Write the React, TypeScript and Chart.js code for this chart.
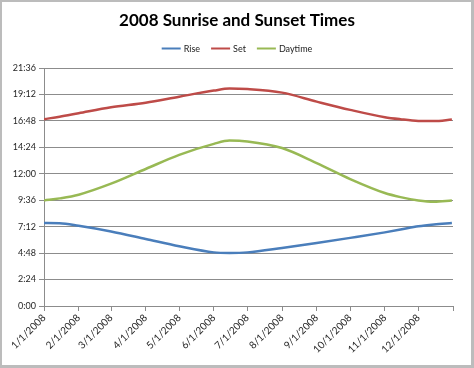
import React, { useEffect, useRef } from 'react';
import { Chart, registerables } from 'chart.js';

Chart.register(...registerables);

const chartTitle = '2008 Sunrise and Sunset Times';
const monthLabels = ['1/1/2008', '2/1/2008', '3/1/2008', '4/1/2008', '5/1/2008', '6/1/2008', '7/1/2008', '8/1/2008', '9/1/2008', '10/1/2008', '11/1/2008', '12/1/2008'];
const monthStartDays = [0, 31, 60, 91, 121, 152, 182, 213, 244, 274, 305, 335];
const yearEndDay = 366;
const sampleDays = [0, 14, 31, 60, 91, 121, 152, 166, 182, 213, 244, 274, 305, 319, 335, 349, 365];
const riseTimes = ['7:32', '7:31', '7:17', '6:46', '6:05', '5:25', '4:52', '4:49', '4:52', '5:16', '5:43', '6:11', '6:41', '6:56', '7:14', '7:24', '7:32'];
const setTimes = ['16:57', '17:11', '17:30', '18:02', '18:27', '19:00', '19:33', '19:44', '19:41', '19:22', '18:33', '17:48', '17:08', '16:57', '16:48', '16:47', '16:55'];
const daytimeTimes = ['9:35', '9:46', '10:06', '11:06', '12:26', '13:43', '14:43', '15:01', '14:56', '14:20', '12:58', '11:31', '10:15', '9:53', '9:35', '9:28', '9:35'];
const seriesNames = ['Rise', 'Set', 'Daytime'];
const seriesColors = ['#4a7ebb', '#be4b48', '#98b954'];
const yMaxMinutes = 1296;
const yStepMinutes = 144;

const toMinutes = (s: string) => {
  const [h, m] = s.split(':').map(Number);
  return h * 60 + m;
};
const fmt = (v: number) => {
  const h = Math.floor(v / 60);
  const m = Math.round(v - h * 60);
  return `${h}:${m < 10 ? '0' : ''}${m}`;
};

const FONT = 'Lato, "DejaVu Sans", sans-serif';

const framePlugin = {
  id: 'frameAndHeader',
  beforeDraw(chart: any) {
    const { ctx, width, height } = chart;
    ctx.save();
    ctx.fillStyle = '#bcbcbc';
    ctx.fillRect(0, 0, width, height);
    ctx.fillStyle = '#ffffff';
    ctx.fillRect(2, 2, width - 5, height - 5);
    ctx.restore();
  },
  afterDraw(chart: any) {
    const { ctx } = chart;
    ctx.save();
    ctx.fillStyle = '#000000';
    ctx.font = `bold 17px ${FONT}`;
    ctx.textAlign = 'center';
    ctx.textBaseline = 'middle';
    ctx.fillText(chartTitle, 237, 21);

    // legend
    ctx.font = `9px ${FONT}`;
    ctx.textAlign = 'left';
    const lineLen = 19;
    const gapLineText = 3;
    const gapItems = 11;
    const widths = chart.data.datasets.map((d: any) => lineLen + gapLineText + ctx.measureText(d.label).width);
    const total = widths.reduce((a: number, b: number) => a + b, 0) + gapItems * (widths.length - 1);
    let x = 237 - total / 2;
    const y = 48.5;
    chart.data.datasets.forEach((d: any, i: number) => {
      ctx.strokeStyle = d.borderColor;
      ctx.lineWidth = 2;
      ctx.beginPath();
      ctx.moveTo(x, y);
      ctx.lineTo(x + lineLen, y);
      ctx.stroke();
      ctx.fillStyle = '#222222';
      ctx.fillText(d.label, x + lineLen + gapLineText, y + 0.5);
      x += widths[i] + gapItems;
    });
    ctx.restore();
  },
};

export default function App() {
  const ref = useRef<HTMLCanvasElement>(null);

  useEffect(() => {
    if (!ref.current) return;
    const series = [riseTimes, setTimes, daytimeTimes];
    const chart = new Chart(ref.current, {
      type: 'line',
      data: {
        datasets: series.map((times, i) => ({
          label: seriesNames[i],
          data: sampleDays.map((d, j) => ({ x: d, y: toMinutes(times[j]) })),
          borderColor: seriesColors[i],
          backgroundColor: seriesColors[i],
          borderWidth: 2.5,
          pointRadius: 0,
          cubicInterpolationMode: 'monotone' as const,
          fill: false,
        })),
      },
      options: {
        responsive: false,
        animation: false,
        events: [],
        layout: { padding: { top: 68, right: 21, left: 0, bottom: 0 } },
        plugins: {
          legend: { display: false },
          title: { display: false },
          tooltip: { enabled: false },
        },
        scales: {
          x: {
            type: 'linear',
            min: 0,
            max: yearEndDay,
            afterBuildTicks: (scale: any) => {
              scale.ticks = [...monthStartDays, yearEndDay].map((v) => ({ value: v }));
            },
            afterFit: (scale: any) => {
              scale.height = 62;
            },
            ticks: {
              autoSkip: false,
              minRotation: 45,
              maxRotation: 45,
              padding: 1,
              color: '#262626',
              font: { family: FONT, size: 10 },
              callback: (v: any) => {
                const idx = monthStartDays.indexOf(Number(v));
                return idx >= 0 ? monthLabels[idx] : '';
              },
            },
            grid: { drawOnChartArea: false, drawTicks: true, tickLength: 5, color: '#8c8c8c' },
            border: { color: '#8c8c8c' },
          },
          y: {
            type: 'linear',
            min: 0,
            max: yMaxMinutes,
            afterFit: (scale: any) => {
              scale.width = 44;
            },
            ticks: {
              stepSize: yStepMinutes,
              padding: 3,
              color: '#262626',
              font: { family: FONT, size: 9 },
              callback: (v: any) => fmt(Number(v)),
            },
            grid: { color: '#8c8c8c', tickLength: 5, drawTicks: true },
            border: { color: '#8c8c8c' },
          },
        },
      },
      plugins: [framePlugin],
    });
    return () => chart.destroy();
  }, []);

  return (
    <div style={{ position: 'absolute', left: 0, top: 0, width: 474, height: 368 }}>
      <canvas ref={ref} width={474} height={368} />
    </div>
  );
}
